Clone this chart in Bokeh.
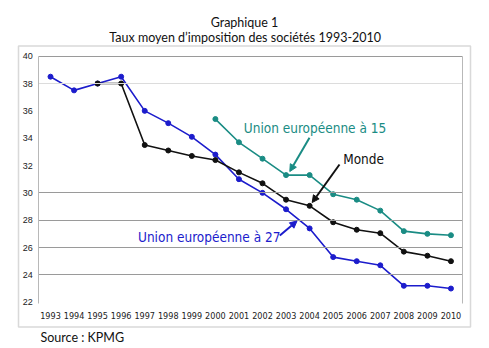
from bokeh.plotting import figure
from bokeh.models import (Range1d, FixedTicker, LinearAxis, Label, Arrow, NormalHead,
                          BoxAnnotation, ColumnDataSource)
from bokeh.embed import file_html
from bokeh.resources import INLINE

years = list(range(1993, 2011))
tick_labels = [str(y) for y in years]
y_ticks = [22, 24, 26, 28, 30, 32, 34, 36, 38, 40]
grid_dark = [24, 26, 28, 30, 40]
grid_light = [38]

years_eu27 = list(range(1993, 2011))
eu27 = [38.5, 37.5, 38.0, 38.5, 36.0, 35.1, 34.1, 32.8, 31.0, 30.0,
        28.8, 27.4, 25.3, 25.0, 24.7, 23.2, 23.2, 23.0]
years_monde = list(range(1995, 2011))
monde = [38.0, 38.0, 33.5, 33.1, 32.7, 32.4, 31.5, 30.7,
         29.5, 29.05, 27.85, 27.3, 27.05, 25.7, 25.4, 25.0]
years_eu15 = list(range(2000, 2011))
eu15 = [35.4, 33.7, 32.5, 31.3, 31.3, 29.9, 29.5, 28.7, 27.2, 27.0, 26.9]

W, H = 489, 348
# pixel <-> data mapping (frame covers whole canvas)
PXY, X_REF_PX, X_REF = 23.556, 50.0, 1993
PYU, Y_REF_PX, Y_REF = 13.667, 301.7, 22

def dx(px):
    return X_REF + (px - X_REF_PX) / PXY

def dy(py):
    return Y_REF + (Y_REF_PX - py) / PYU

XL, XR = 1992.5, 2010.5  # inner plot area edges

p = figure(width=W, height=H, output_backend="svg", toolbar_location=None,
           x_range=Range1d(dx(0), dx(W)), y_range=Range1d(dy(H), dy(0)),
           min_border=0, x_axis_location=None, y_axis_location=None)
p.title.visible = False
p.outline_line_color = None
p.background_fill_color = "white"
p.border_fill_color = "white"
p.xgrid.grid_line_color = None
p.ygrid.grid_line_color = None

# gridlines drawn as inward ticks of fixed axes
def tick_axis(ticks, color, loc, side, length=0):
    ax = LinearAxis(ticker=FixedTicker(ticks=ticks), fixed_location=loc,
                    major_label_text_font_size="0px", major_label_text_color=None,
                    major_tick_in=length, major_tick_out=0, major_tick_line_color=color,
                    minor_tick_line_color=None, axis_line_color=None)
    p.add_layout(ax, side)
    return ax

gl = round((XR - XL) * PXY)
tick_axis(grid_light, "#dcdcdc", XL, "left", length=gl)
tick_axis(grid_dark, "#9a9a9a", XL, "left", length=gl)

# left axis with labels
yax = LinearAxis(ticker=FixedTicker(ticks=y_ticks), fixed_location=XL, bounds=(21.9, 40),
                 axis_line_color="#b8b8b8", major_tick_line_color=None, minor_tick_line_color=None,
                 major_tick_in=0, major_tick_out=0, major_label_standoff=6,
                 major_label_text_font="Liberation Sans", major_label_text_font_size="9px",
                 major_label_text_color="#222222")
p.add_layout(yax, "left")
# right frame line
rax = LinearAxis(ticker=FixedTicker(ticks=[]), fixed_location=XR, bounds=(21.9, 40),
                 axis_line_color="#b8b8b8", major_tick_line_color=None, minor_tick_line_color=None,
                 major_label_text_font_size="0px")
p.add_layout(rax, "right")

xax = LinearAxis(ticker=FixedTicker(ticks=years), fixed_location=22,
                 major_label_overrides={y: s for y, s in zip(years, tick_labels)},
                 axis_line_color=None, major_tick_line_color=None, minor_tick_line_color=None,
                 major_tick_in=0, major_tick_out=0, major_label_standoff=10,
                 major_label_text_font="DejaVu Sans Condensed", major_label_text_font_size="9px",
                 major_label_text_color="#222222")
p.add_layout(xax, "below")

# outer box
p.add_layout(BoxAnnotation(left=dx(18), right=dx(470), top=dy(45.5), bottom=dy(326.5),
                           fill_alpha=0, line_color="#808080", line_width=1.5))

c27, cm, c15 = "#1c1ccc", "#111111", "#1a8c84"
for xs, ys, c in [(years_eu27, eu27, c27), (years_monde, monde, cm), (years_eu15, eu15, c15)]:
    src = ColumnDataSource(dict(x=xs, y=ys))
    p.line("x", "y", source=src, line_color=c, line_width=1.6)
    p.scatter("x", "y", source=src, size=5, fill_color=c, line_color=c)

afont = "DejaVu Sans Condensed"
asize = "13.5px"
p.add_layout(Label(x=dx(243.3), y=dy(127.5), text="Union européenne à 15", text_color=c15,
                   text_font=afont, text_font_size=asize, text_baseline="middle"))
p.add_layout(Label(x=dx(342.7), y=dy(158.5), text="Monde", text_color=cm,
                   text_font=afont, text_font_size=asize, text_baseline="middle"))
p.add_layout(Label(x=dx(137.5), y=dy(236.5), text="Union européenne à 27", text_color=c27,
                   text_font=afont, text_font_size=asize, text_baseline="middle"))

for (x0, y0, x1, y1, c) in [(309, 137.3, 289.3, 171, c15), (339, 164, 311.7, 202, cm),
                            (279.3, 235, 296.5, 220.5, c27)]:
    p.add_layout(Arrow(x_start=dx(x0), y_start=dy(y0), x_end=dx(x1), y_end=dy(y1),
                       line_color=c, line_width=2,
                       end=NormalHead(size=7, fill_color=c, line_color=c)))

tfont = "Lato"
tsize = "12.5px"
p.add_layout(Label(x=dx(244), y=dy(21.7), text="Graphique 1", text_align="center",
                   text_baseline="middle", text_font=tfont, text_font_size=tsize,
                   text_color="#111111"))
p.add_layout(Label(x=dx(244.7), y=dy(36.7), text="Taux moyen d’imposition des sociétés 1993-2010",
                   text_align="center", text_baseline="middle", text_font=tfont,
                   text_font_size=tsize, text_color="#111111"))
p.add_layout(Label(x=dx(40), y=dy(336.7), text="Source : KPMG", text_baseline="middle",
                   text_font=tfont, text_font_size=tsize, text_color="#111111"))

open("out.html", "w").write(file_html(p, INLINE))
